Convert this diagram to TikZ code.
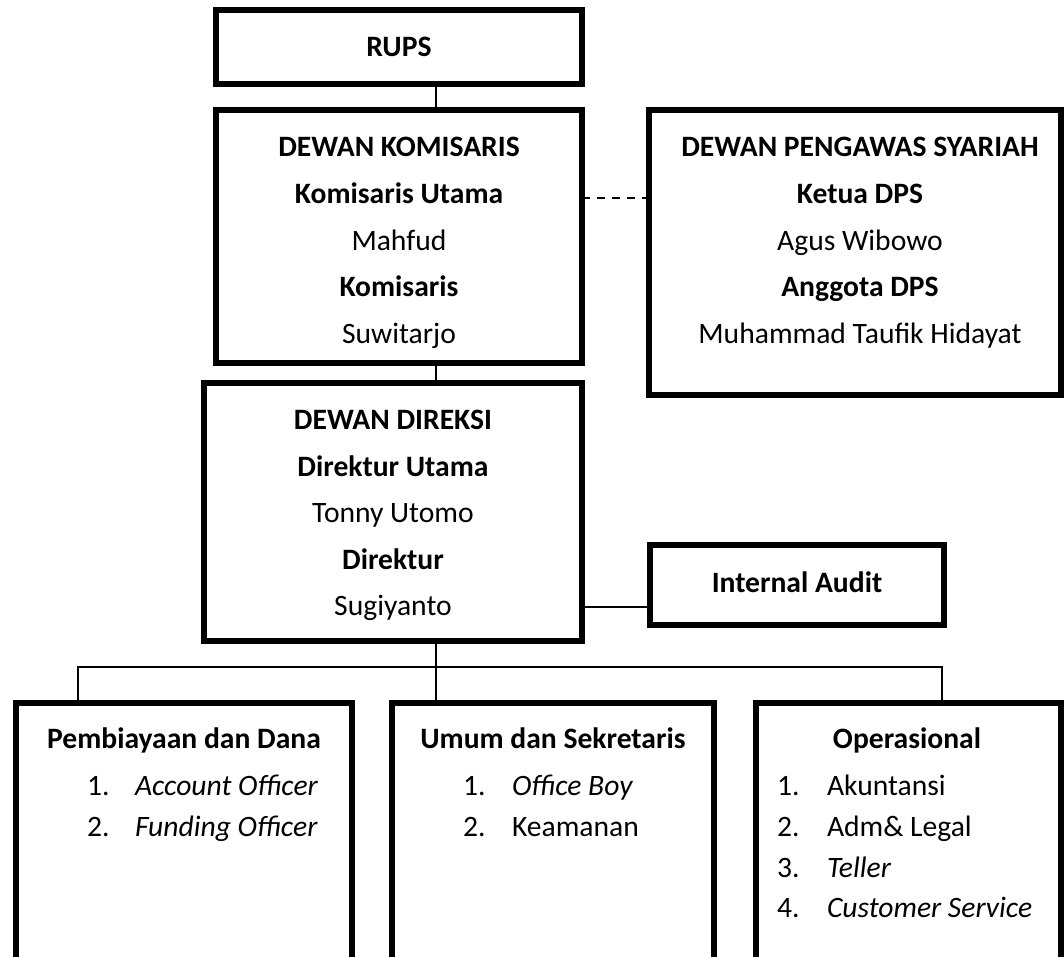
\documentclass[tikz,border=0pt]{standalone}
\usepackage{fontspec}
\setmainfont{Carlito}
\begin{document}
\begin{tikzpicture}[x=0.5pt,y=-0.5pt,
  box/.style={draw, line width=3.25pt, inner sep=0pt, outer sep=0pt, anchor=north west},
  txt/.style={inner sep=0pt, outer sep=0pt, font=\fontsize{14.8pt}{17pt}\selectfont, anchor=base},
  itm/.style={txt, anchor=base west},
  conn/.style={line width=0.6pt},
  dashconn/.style={line width=0.6pt, dash pattern=on 4pt off 3.5pt}]
\useasboundingbox (0,0) rectangle (1064,957);
\clip (0,0) rectangle (1064,957);
% boxes
\node[box, minimum width=183pt, minimum height=37pt] (rups) at (216,10) {};
\node[box, minimum width=183pt, minimum height=126.5pt] (kom) at (216,110) {};
\node[box, minimum width=206pt, minimum height=142.5pt] (dps) at (649,110) {};
\node[box, minimum width=189pt, minimum height=129pt] (dir) at (204,383) {};
\node[box, minimum width=147pt, minimum height=40pt] (ia) at (650,545) {};
\node[box, minimum width=168pt, minimum height=150pt] (b1) at (16,703) {};
\node[box, minimum width=161pt, minimum height=150pt] (b2) at (392,703) {};
\node[box, minimum width=152.5pt, minimum height=150pt] (b3) at (756,703) {};
% helper coordinates
\coordinate (trunk) at (436,0);
\coordinate (dashy) at (0,198);
\coordinate (iay) at (0,607);
\coordinate (busL) at (78,667);
\coordinate (busM) at (436,667);
\coordinate (busR) at (942,667);
% connectors
\draw[conn] (rups.south -| trunk) -- (kom.north -| trunk);
\draw[conn] (kom.south -| trunk) -- (dir.north -| trunk);
\draw[dashconn] (kom.east |- dashy) -- (dps.west |- dashy);
\draw[conn] (dir.east |- iay) -- (ia.west |- iay);
\draw[conn] (dir.south -| busM) -- (b2.north -| busM);
\draw[conn] (b1.north -| busL) -- (busL) -- (busR) -- (b3.north -| busR);
% texts
\node[txt] (t_rups) at (399,57) {\bfseries RUPS};
\node[txt] (k1) at (399,157) {\bfseries DEWAN KOMISARIS};
\node[txt] (k2) at (399,203.5) {\bfseries Komisaris Utama};
\node[txt] (k3) at (399,250) {Mahfud};
\node[txt] (k4) at (399,296.5) {\bfseries Komisaris};
\node[txt] (k5) at (399,343) {Suwitarjo};
\node[txt] (d1) at (860,157) {\bfseries DEWAN PENGAWAS SYARIAH};
\node[txt] (d2) at (860,203.5) {\bfseries Ketua DPS};
\node[txt] (d3) at (860,250) {Agus Wibowo};
\node[txt] (d4) at (860,296.5) {\bfseries Anggota DPS};
\node[txt] (d5) at (860,343) {Muhammad Taufik Hidayat};
\node[txt] (r1) at (393,429) {\bfseries DEWAN DIREKSI};
\node[txt] (r2) at (393,476) {\bfseries Direktur Utama};
\node[txt] (r3) at (393,522) {Tonny Utomo};
\node[txt] (r4) at (393,569) {\bfseries Direktur};
\node[txt] (r5) at (393,615) {Sugiyanto};
\node[txt] (t_ia) at (797,592) {\bfseries Internal Audit};
% bottom box 1
\node[txt] (p0) at (184,748) {\bfseries Pembiayaan dan Dana};
\node[itm] (p1n) at (87,795) {1.};
\node[itm] (p1) at (135,795) {\itshape Account Officer};
\node[itm] (p2n) at (87,836) {2.};
\node[itm] (p2) at (135,836) {\itshape Funding Officer};
% bottom box 2
\node[txt] (u0) at (553,748) {\bfseries Umum dan Sekretaris};
\node[itm] (u1n) at (463,795) {1.};
\node[itm] (u1) at (512,795) {\itshape Office Boy};
\node[itm] (u2n) at (463,836) {2.};
\node[itm] (u2) at (512,836) {Keamanan};
% bottom box 3
\node[txt] (o0) at (907,748) {\bfseries Operasional};
\node[itm] (o1n) at (777,795) {1.};
\node[itm] (o1) at (827,795) {Akuntansi};
\node[itm] (o2n) at (777,836) {2.};
\node[itm] (o2) at (827,836) {Adm\& Legal};
\node[itm] (o3n) at (777,877) {3.};
\node[itm] (o3) at (827,877) {\itshape Teller};
\node[itm] (o4n) at (777,917) {4.};
\node[itm] (o4) at (827,917) {\itshape Customer Service};
\end{tikzpicture}
\end{document}
